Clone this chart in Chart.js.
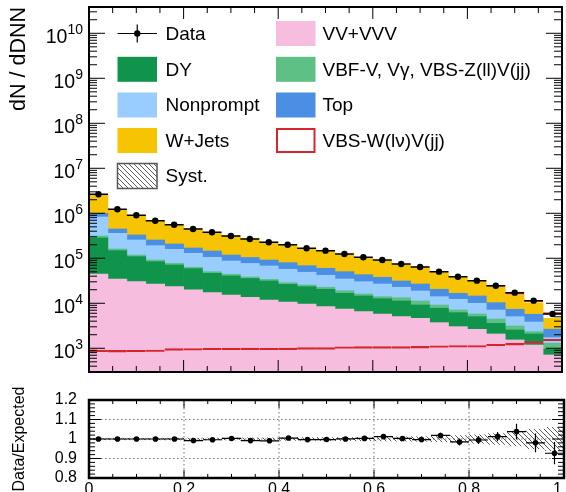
<!DOCTYPE html>
<html>
<head>
<meta charset="utf-8">
<script src="https://cdn.jsdelivr.net/npm/chart.js@4.4.1/dist/chart.umd.min.js"></script>
<style>
  html, body { margin: 0; padding: 0; background: #fff; overflow: hidden; }
  #wrap { position: relative; width: 566px; height: 492px; overflow: hidden; }
  #main { position: absolute; left: 0; top: 0; }
  #ratio { position: absolute; left: 0; top: 380px; }
</style>
</head>
<body>
<div id="wrap">
  <canvas id="main" width="566" height="380"></canvas>
  <canvas id="ratio" width="580" height="120"></canvas>
</div>
<script>
// bin centres of the DNN score histogram (bin width 0.04)
const bins = [0.02, 0.06, 0.10, 0.14, 0.18, 0.22, 0.26, 0.30, 0.34, 0.38, 0.42, 0.46, 0.50,
              0.54, 0.58, 0.62, 0.66, 0.70, 0.74, 0.78, 0.82, 0.86, 0.90, 0.94, 0.98];
const halfWidth = 0.02;

// stacked backgrounds, bottom to top
const vv        = [44800, 34700, 30200, 26800, 23400, 19800, 17200, 15300, 13600, 11800, 10700, 9640, 8400,
                   7460, 6500, 5780, 5040, 4640, 3710, 3020, 2640, 2080, 1530, 1180, 710];
const dy        = [238000, 112900, 78400, 57200, 47600, 38900, 29200, 25200, 22000, 19500, 15700, 13760, 12100,
                   9210, 8030, 6870, 6210, 4530, 4030, 3160, 2400, 1510, 1020, 900, 254];
const vbf       = [30000, 13400, 9400, 7600, 6400, 4400, 4000, 3600, 2800, 2800, 2300, 2100, 2200,
                   2380, 1570, 1370, 2050, 2080, 1430, 920, 740, 890, 580, 260, 327];
const nonprompt = [515000, 198000, 137000, 99000, 81100, 66000, 54800, 43000, 38200, 33400, 28300, 23400, 19200,
                   15650, 14100, 12780, 9400, 7500, 4850, 5170, 4220, 2620, 1910, 1500, 431];
const topBkg    = [172000, 89000, 75000, 64400, 49500, 40300, 40000, 31200, 27600, 24100, 22800, 19600, 18100,
                   15700, 13000, 11000, 8600, 8050, 6480, 4400, 4530, 3210, 2320, 1860, 938];
const wjets     = [1639000, 778000, 572000, 429000, 349000, 281200, 233300, 192800, 166000, 136500, 118200, 97700, 87000,
                   73200, 60600, 51600, 42100, 36400, 27860, 21780, 16280, 12770, 7940, 4560, 1985];
// signal
const signal    = [910, 900, 905, 915, 980, 990, 1000, 1000, 1010, 1000, 1010, 1030, 1030,
                   1080, 1090, 1090, 1090, 1100, 1140, 1150, 1150, 1230, 1290, 1400, 1590];
// observed
const data      = [2640000, 1227000, 903000, 685000, 558000, 448000, 378000, 313000, 269000, 227000, 200000, 166700, 147600,
                   124700, 105200, 91600, 74700, 64100, 50400, 39000, 31800, 24600, 17220, 11430, 5780];
// ratio panel
const ratioErr  = [0.003, 0.003, 0.003, 0.003, 0.003, 0.004, 0.004, 0.004, 0.004, 0.004, 0.005, 0.005, 0.006,
                   0.006, 0.007, 0.009, 0.010, 0.011, 0.014, 0.018, 0.020, 0.024, 0.040, 0.048, 0.057];
const systRel   = [0.004, 0.004, 0.004, 0.004, 0.005, 0.005, 0.005, 0.005, 0.006, 0.006, 0.007, 0.007, 0.008,
                   0.008, 0.009, 0.010, 0.011, 0.012, 0.014, 0.018, 0.022, 0.028, 0.035, 0.050, 0.060];

const yTickExps = [3, 4, 5, 6, 7, 8, 9, 10];

const colors = {
  vv: '#f6bddf', dy: '#10944c', vbf: '#5ec084', nonprompt: '#99ccff',
  top: '#4a8fe3', wjets: '#f7c404', signal: '#d7262b'
};

Chart.defaults.font.family = "'Liberation Sans', Arial, Helvetica, sans-serif";
Chart.defaults.color = '#000';

const pts = (arr) => arr.map((v, i) => ({ x: bins[i], y: v }));

//hatch pattern for the systematic band
function makeHatch() {
  const c = document.createElement('canvas');
  c.width = 5; c.height = 5;
  const g = c.getContext('2d');
  g.strokeStyle = '#333';
  g.lineWidth = 0.8;
  g.beginPath();
  for (const o of [-5, 0, 5]) { g.moveTo(o, 0); g.lineTo(o + 5, 5); }
  g.stroke();
  return g.createPattern(c, 'repeat');
}
const hatch = makeHatch();

const bkg = (label, values, color) => ({
  type: 'bar', label, data: pts(values), backgroundColor: color, borderWidth: 0,
  stack: 'bkg', order: 2, barPercentage: 1, categoryPercentage: 1
});

const legendItems = [
  { text: 'Data', kind: 'data', col: 0, row: 0 },
  { text: 'DY', fill: colors.dy, col: 0, row: 1 },
  { text: 'Nonprompt', fill: colors.nonprompt, col: 0, row: 2 },
  { text: 'W+Jets', fill: colors.wjets, col: 0, row: 3 },
  { text: 'Syst.', kind: 'syst', col: 0, row: 4 },
  { text: 'VV+VVV', fill: colors.vv, col: 1, row: 0 },
  { text: 'VBF-V, V\u03b3, VBS-Z(ll)V(jj)', fill: colors.vbf, col: 1, row: 1 },
  { text: 'Top', fill: colors.top, col: 1, row: 2 },
  { text: 'VBS-W(l\u03bd)V(jj)', kind: 'outline', col: 1, row: 3 }
];

const mainDecor = {
  id: 'mainDecor',
  afterDatasetsDraw(chart) {
    const { ctx } = chart;
    const x = chart.scales.x, y = chart.scales.y;
    ctx.save();
    ctx.strokeStyle = '#000';
    ctx.lineWidth = 1.5;
    ctx.beginPath();
    data.forEach((d, i) => {
      const py = y.getPixelForValue(d);
      ctx.moveTo(x.getPixelForValue(bins[i] - halfWidth), py);
      ctx.lineTo(x.getPixelForValue(bins[i] + halfWidth), py);
    });
    ctx.stroke();
    ctx.restore();
  },
  afterDraw(chart) {
    const { ctx, chartArea: a } = chart;
    const x = chart.scales.x, y = chart.scales.y;
    ctx.save();
    // ticks inside the frame
    ctx.strokeStyle = '#000';
    ctx.lineWidth = 1;
    ctx.beginPath();
    for (let k = 0; k <= 20; k++) {
      const px = x.getPixelForValue(k / 20);
      const len = k % 4 === 0 ? 12 : 6;
      ctx.moveTo(px, a.bottom); ctx.lineTo(px, a.bottom - len);
      ctx.moveTo(px, a.top); ctx.lineTo(px, a.top + len);
    }
    for (let e = 2; e <= 10; e++) {
      for (let m = 1; m <= 9; m++) {
        const v = m * Math.pow(10, e);
        if (v < y.min || v > y.max) continue;
        const py = y.getPixelForValue(v);
        const len = m === 1 ? 16 : 8;
        ctx.moveTo(a.left, py); ctx.lineTo(a.left + len, py);
        ctx.moveTo(a.right, py); ctx.lineTo(a.right - len, py);
      }
    }
    ctx.stroke();
    ctx.lineWidth = 2;
    ctx.strokeRect(a.left, a.top, a.right - a.left, a.bottom - a.top);

    // 10^n labels
    ctx.fillStyle = '#000';
    ctx.textBaseline = 'alphabetic';
    ctx.textAlign = 'left';
    for (const e of yTickExps) {
      const py = y.getPixelForValue(Math.pow(10, e));
      ctx.font = "14px 'Liberation Sans', Arial, sans-serif";
      const ew = ctx.measureText(String(e)).width;
      ctx.fillText(String(e), 83 - ew, py + 0.5);
      ctx.font = "19.5px 'Liberation Sans', Arial, sans-serif";
      const bw = ctx.measureText('10').width;
      ctx.fillText('10', 83 - ew - bw, py + 9.5);
    }

    // legend
    const colX = [117.5, 276], txtX = [165.5, 322.5];
    const rowY = [33.5, 69.3, 105, 140.5, 176];
    const bw = 39.5, bh = 25;
    ctx.font = "19px 'Liberation Sans', Arial, sans-serif";
    ctx.textBaseline = 'middle';
    for (const it of legendItems) {
      const bx = colX[it.col], cy = rowY[it.row];
      if (it.kind === 'data') {
        ctx.strokeStyle = '#000'; ctx.lineWidth = 1.2;
        ctx.beginPath();
        ctx.moveTo(bx, cy); ctx.lineTo(bx + bw, cy);
        ctx.moveTo(bx + bw / 2, cy - 9); ctx.lineTo(bx + bw / 2, cy + 9);
        ctx.stroke();
        ctx.fillStyle = '#000';
        ctx.beginPath(); ctx.arc(bx + bw / 2, cy, 3.2, 0, Math.PI * 2); ctx.fill();
      } else if (it.kind === 'syst') {
        ctx.fillStyle = '#fff'; ctx.fillRect(bx, cy - bh / 2, bw, bh);
        ctx.fillStyle = hatch; ctx.fillRect(bx, cy - bh / 2, bw, bh);
        ctx.strokeStyle = '#555'; ctx.lineWidth = 1.5;
        ctx.strokeRect(bx, cy - bh / 2, bw, bh);
      } else if (it.kind === 'outline') {
        ctx.strokeStyle = colors.signal; ctx.lineWidth = 2;
        ctx.strokeRect(bx + 1, cy - bh / 2 + 1, bw - 2, bh - 2);
      } else {
        ctx.fillStyle = it.fill; ctx.fillRect(bx, cy - bh / 2, bw, bh);
      }
      ctx.fillStyle = '#000';
      ctx.fillText(it.text, txtX[it.col], cy + 1);
    }
    ctx.restore();
  }
};

new Chart(document.getElementById('main'), {
  type: 'bar',
  plugins: [mainDecor],
  data: {
    datasets: [
      bkg('VV+VVV', vv, colors.vv),
      bkg('DY', dy, colors.dy),
      bkg('VBF-V, V\u03b3, VBS-Z(ll)V(jj)', vbf, colors.vbf),
      bkg('Nonprompt', nonprompt, colors.nonprompt),
      bkg('Top', topBkg, colors.top),
      bkg('W+Jets', wjets, colors.wjets),
      {
        type: 'bar', label: 'VBS-W(l\u03bd)V(jj) stacked', data: pts(signal), stack: 'bkg', order: 2,
        backgroundColor: 'rgba(0,0,0,0)', borderColor: colors.signal,
        borderWidth: { top: 1.5, left: 0, right: 0, bottom: 0 },
        barPercentage: 1, categoryPercentage: 1
      },
      {
        type: 'bar', label: 'VBS-W(l\u03bd)V(jj)', data: pts(signal), stack: 'sigline', grouped: false, order: 1,
        backgroundColor: 'rgba(0,0,0,0)', borderColor: colors.signal,
        borderWidth: { top: 1.5, left: 0, right: 0, bottom: 0 },
        barPercentage: 1, categoryPercentage: 1
      },
      {
        type: 'line', label: 'Data', data: pts(data), stack: 'data', order: 0, showLine: false,
        pointRadius: 3.2, pointBackgroundColor: '#000', pointBorderColor: '#000', pointBorderWidth: 0
      }
    ]
  },
  options: {
    responsive: false,
    animation: false,
    layout: { padding: { left: 0, right: 2, top: 7, bottom: 8 } },
    plugins: { legend: { display: false }, tooltip: { enabled: false } },
    scales: {
      x: { type: 'linear', min: 0, max: 1, offset: false, display: false },
      y: {
        type: 'logarithmic', min: 297, max: 3.84e10, stacked: true,
        grid: { display: false, drawTicks: false }, border: { display: false },
        ticks: { display: false },
        title: {
          display: true, text: 'dN / dDNN', align: 'end', color: '#000',
          font: { size: 21.5 }, padding: { top: 6.6, bottom: 0 }
        },
        afterFit: (s) => { s.width = 89; }
      }
    }
  }
});

// ratio panel
const totals = bins.map((_, i) => vv[i] + dy[i] + vbf[i] + nonprompt[i] + topBkg[i] + wjets[i] + signal[i]);
const ratio = data.map((d, i) => d / totals[i]);

const ratioDecor = {
  id: 'ratioDecor',
  beforeDatasetsDraw(chart) {
    const { ctx, chartArea: a } = chart;
    const x = chart.scales.x, y = chart.scales.y;
    ctx.save();
    ctx.strokeStyle = '#777';
    ctx.lineWidth = 1;
    ctx.setLineDash([1.5, 2.5]);
    ctx.beginPath();
    for (const v of [0.2, 0.4, 0.6, 0.8]) {
      const px = x.getPixelForValue(v);
      ctx.moveTo(px, a.top); ctx.lineTo(px, a.bottom);
    }
    for (const v of [0.9, 1.0, 1.1]) {
      const py = y.getPixelForValue(v);
      ctx.moveTo(a.left, py); ctx.lineTo(a.right, py);
    }
    ctx.stroke();
    ctx.restore();
  },
  afterDatasetsDraw(chart) {
    const { ctx } = chart;
    const x = chart.scales.x, y = chart.scales.y;
    ctx.save();
    ctx.strokeStyle = '#000';
    ctx.lineWidth = 1.2;
    ctx.beginPath();
    ratio.forEach((r, i) => {
      const py = y.getPixelForValue(r);
      const px = x.getPixelForValue(bins[i]);
      ctx.moveTo(x.getPixelForValue(bins[i] - halfWidth), py);
      ctx.lineTo(x.getPixelForValue(bins[i] + halfWidth), py);
      ctx.moveTo(px, y.getPixelForValue(r - ratioErr[i]));
      ctx.lineTo(px, y.getPixelForValue(r + ratioErr[i]));
    });
    ctx.stroke();
    ctx.restore();
  },
  afterDraw(chart) {
    const { ctx, chartArea: a } = chart;
    const x = chart.scales.x, y = chart.scales.y;
    ctx.save();
    ctx.strokeStyle = '#000';
    ctx.lineWidth = 1;
    ctx.beginPath();
    for (let k = 0; k <= 20; k++) {
      const px = x.getPixelForValue(k / 20);
      const len = k % 4 === 0 ? 8 : 4;
      ctx.moveTo(px, a.bottom); ctx.lineTo(px, a.bottom - len);
      ctx.moveTo(px, a.top); ctx.lineTo(px, a.top + len);
    }
    for (let k = 0; k <= 20; k++) {
      const py = y.getPixelForValue(0.8 + k * 0.02);
      const len = k % 5 === 0 ? 12 : 6;
      ctx.moveTo(a.left, py); ctx.lineTo(a.left + len, py);
      ctx.moveTo(a.right, py); ctx.lineTo(a.right - len, py);
    }
    ctx.stroke();
    ctx.lineWidth = 2.5;
    ctx.strokeRect(a.left, a.top, a.right - a.left, a.bottom - a.top);
    ctx.restore();
  }
};

new Chart(document.getElementById('ratio'), {
  type: 'bar',
  plugins: [ratioDecor],
  data: {
    datasets: [
      {
        type: 'bar', label: 'Syst.', order: 1,
        data: bins.map((b, i) => ({ x: b, y: [1 - systRel[i], 1 + systRel[i]] })),
        backgroundColor: hatch, borderWidth: 0, barPercentage: 1, categoryPercentage: 1
      },
      {
        type: 'line', label: 'Data/Expected', order: 0, showLine: false,
        data: pts(ratio), pointRadius: 2.8, pointBackgroundColor: '#000', pointBorderColor: '#000', pointBorderWidth: 0
      }
    ]
  },
  options: {
    responsive: false,
    animation: false,
    layout: { padding: { left: 0, right: 16, top: 9, bottom: 0 } },
    plugins: { legend: { display: false }, tooltip: { enabled: false } },
    scales: {
      x: {
        type: 'linear', min: 0, max: 1, offset: false,
        grid: { display: false, drawTicks: false }, border: { display: false },
        ticks: { stepSize: 0.2, padding: 3.5, maxRotation: 0, autoSkip: false, color: '#000',
                 font: { size: 16, lineHeight: 1 } },
        afterFit: (s) => { s.height = 22; }
      },
      y: {
        min: 0.8, max: 1.2,
        grid: { display: false, drawTicks: false }, border: { display: false },
        ticks: { stepSize: 0.1, padding: 12, color: '#000', font: { size: 16, lineHeight: 1 },
                 callback: (v) => String(+v.toFixed(1)) },
        title: { display: true, text: 'Data/Expected', color: '#000', font: { size: 16 },
                 padding: { top: 9.9, bottom: 0 } },
        afterFit: (s) => { s.width = 89; }
      }
    }
  }
});
</script>
</body>
</html>
